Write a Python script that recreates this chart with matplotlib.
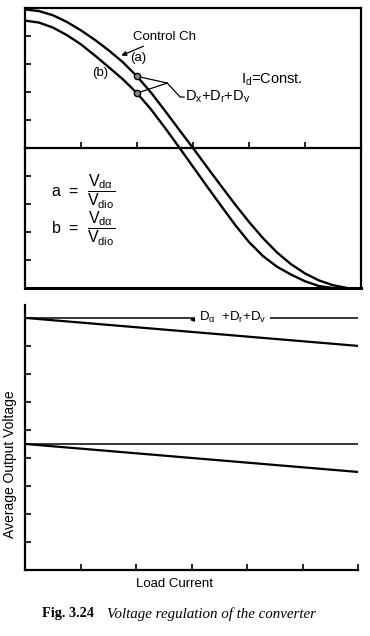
import matplotlib
matplotlib.use('Agg')
import matplotlib.pyplot as plt
import numpy as np

plt.rcParams['font.family'] = ['Liberation Sans', 'DejaVu Sans']
plt.rcParams['mathtext.fontset'] = 'custom'
plt.rcParams['mathtext.rm'] = 'Liberation Sans'
plt.rcParams['mathtext.it'] = 'Liberation Sans'
plt.rcParams['mathtext.bf'] = 'Liberation Sans:bold'

# control characteristics (top panel)
alpha_a = [0, 0.25, 0.5, 0.75, 1, 1.25, 1.5, 1.75, 2, 2.25, 2.5, 2.75,
           3, 3.25, 3.5, 3.75, 4, 4.25, 4.5, 4.75, 5, 5.25, 5.5, 5.75]
curve_a = [4.95, 4.89, 4.74, 4.50, 4.20, 3.86, 3.48, 3.06, 2.56, 1.98, 1.33, 0.66,
           0.0, -0.68, -1.35, -2.01, -2.64, -3.22, -3.73, -4.15, -4.48, -4.73, -4.90, -5.0]
alpha_b = [0, 0.25, 0.5, 0.75, 1, 1.25, 1.5, 1.75, 2, 2.25, 2.5, 2.75,
           3, 3.25, 3.5, 3.75, 4, 4.25, 4.5, 4.75, 5, 5.25, 5.5]
curve_b = [4.55, 4.48, 4.30, 4.03, 3.70, 3.30, 2.88, 2.45, 1.96, 1.38, 0.72, 0.03,
           -0.67, -1.37, -2.06, -2.74, -3.36, -3.86, -4.24, -4.52, -4.76, -4.93, -5.0]
dot_x = 2.0

# regulation characteristics (bottom panel)
load = [0, 6]
high_nl = [9.0, 9.0]
high_fl = [9.0, 8.0]
low_nl = [4.5, 4.5]
low_fl = [4.5, 3.5]

fig = plt.figure(figsize=(3.7, 6.36), dpi=100)

# ---- top panel ----
ax = fig.add_axes([25/370, 1 - 288/636, 336/370, 280/636])
ax.plot(alpha_a, curve_a, color='black', lw=1.7, solid_joinstyle='round')
ax.plot(alpha_b, curve_b, color='black', lw=1.7, solid_joinstyle='round')
ya = np.interp(dot_x, alpha_a, curve_a)
yb = np.interp(dot_x, alpha_b, curve_b)
ax.set_xlim(0, 6)
ax.set_ylim(-5, 5)
ax.spines['bottom'].set_position(('data', 0))
ax.axhline(-5, color='black', lw=2.2, clip_on=False)
for s in ax.spines.values():
    s.set_linewidth(1.6)
ax.set_xticks([1, 2, 3, 4, 5])
ax.set_yticks([-4, -3, -2, -1, 0, 1, 2, 3, 4])
ax.tick_params(direction='in', length=4, width=1.2, labelbottom=False, labelleft=False)

ax.annotate('Control Ch', xy=(1.72, 3.3), xytext=(1.92, 3.95), fontsize=9.5,
            va='center', ha='left',
            arrowprops=dict(arrowstyle='-|>', color='black', lw=0.9,
                            mutation_scale=7, shrinkA=0, shrinkB=0))
ax.text(2.02, 3.22, '(a)', fontsize=9.5, ha='center', va='center')
ax.text(1.34, 2.68, '(b)', fontsize=9.5, ha='center', va='center')

# leader from the two dots to the loss label
ax.plot([dot_x, 2.54, 2.77, 2.84], [ya, 2.32, 1.82, 1.82], color='black', lw=0.9)
ax.plot([dot_x, 2.54], [yb, 2.32], color='black', lw=0.9)
ax.plot([dot_x, dot_x], [ya, yb], 'o', ms=4.5, mfc='#888888', mec='black', mew=1)
ax.text(2.86, 1.82, r'$D_x$+$D_r$+$D_v$', fontsize=10.5, ha='left', va='center')
ax.text(3.86, 2.43, r'$I_d$=Const.', fontsize=10.5, ha='left', va='center')

ax.text(0.47, -1.57, r'a  =  $\dfrac{V_{d\alpha}}{V_{dio}}$', fontsize=11.5, ha='left', va='center')
ax.text(0.47, -2.88, r'b  =  $\dfrac{V_{d\alpha}}{V_{dio}}$', fontsize=11.5, ha='left', va='center')

# ---- bottom panel ----
ax2 = fig.add_axes([25/370, 1 - 570/636, 333/370, 265/636])
ax2.plot(load, high_nl, color='black', lw=1.1)
ax2.plot(load, high_fl, color='black', lw=1.6)
ax2.plot(load, low_nl, color='black', lw=1.1)
ax2.plot(load, low_fl, color='black', lw=1.6)
ax2.set_xlim(0, 6)
ax2.set_ylim(0, 9.46)
ax2.spines['top'].set_visible(False)
ax2.spines['right'].set_visible(False)
for s in ['left', 'bottom']:
    ax2.spines[s].set_linewidth(1.6)
ax2.set_xticks([1, 2, 3, 4, 5, 6])
ax2.set_yticks([1, 2, 3, 4, 5, 6, 7, 8, 9])
ax2.tick_params(direction='in', length=4, width=1.2, labelbottom=False, labelleft=False)

ax2.annotate(r'$D_\alpha$  $+D_r$+$D_v$ ', xy=(2.97, 8.93), xytext=(3.13, 9.0),
             fontsize=9.5, ha='left', va='center',
             bbox=dict(boxstyle='square,pad=0.3', fc='white', ec='none'),
             arrowprops=dict(arrowstyle='-|>', color='black', lw=0.8,
                             mutation_scale=6, shrinkA=0, shrinkB=0))

ax2.set_xlabel('Load Current', fontsize=9.5)
ax2.xaxis.set_label_coords(0.45, -0.03)
ax2.set_ylabel('Average Output Voltage', fontsize=10)
ax2.yaxis.set_label_coords(-0.025, 0.4)

fig.text(42/370, 1 - 614/636, 'Fig. 3.24', fontsize=10.3, fontweight='bold',
         family='Liberation Serif', va='center', ha='left')
fig.text(107/370, 1 - 614/636, 'Voltage regulation of the converter', fontsize=10.8,
         style='italic', family='Liberation Serif', va='center', ha='left')

fig.savefig('out.png', dpi=100)
